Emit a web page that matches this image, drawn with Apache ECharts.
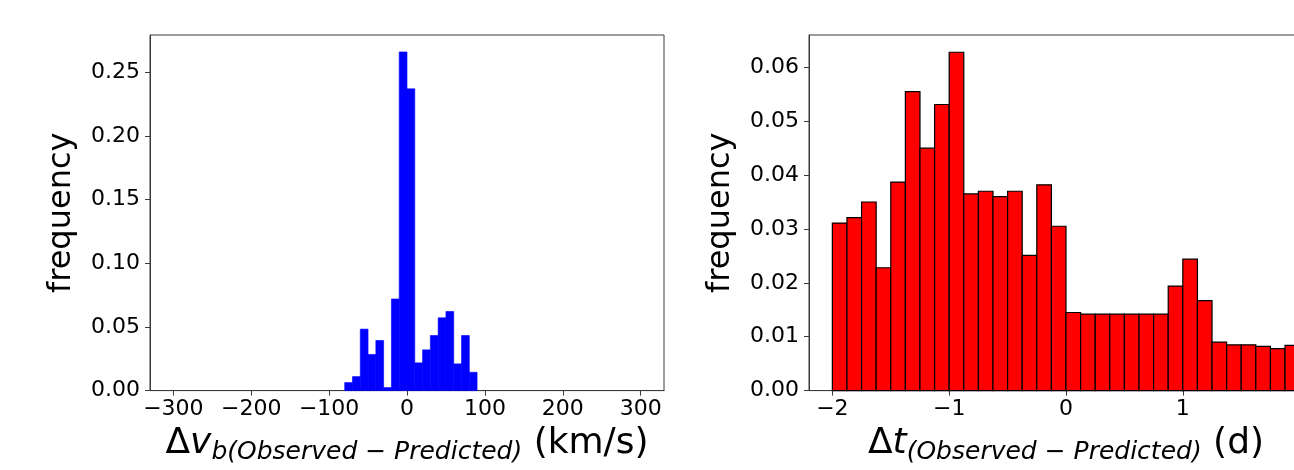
<!DOCTYPE html>
<html>
<head>
<meta charset="utf-8">
<script src="https://cdn.jsdelivr.net/npm/echarts@6/dist/echarts.min.js"></script>
<style>
html, body { margin: 0; padding: 0; background: #fff; overflow: hidden; width: 1294px; height: 470px; }
#chart { width: 1340px; height: 470px; }
</style>
</head>
<body>
<div id="chart"></div>
<script>
// ---- data ----
const leftEdges = [-80, -70, -60, -50, -40, -30, -20, -10, 0, 10, 20, 30, 40, 50, 60, 70, 80, 90];
const leftFreq = [0.0063, 0.0110, 0.0483, 0.0284, 0.0394, 0.0024, 0.0720, 0.2661, 0.2371, 0.0218,
                  0.0320, 0.0433, 0.0572, 0.0622, 0.0210, 0.0433, 0.0144];
const rightEdges = [-2, -1.875, -1.75, -1.625, -1.5, -1.375, -1.25, -1.125, -1, -0.875, -0.75, -0.625,
                    -0.5, -0.375, -0.25, -0.125, 0, 0.125, 0.25, 0.375, 0.5, 0.625, 0.75, 0.875,
                    1, 1.125, 1.25, 1.375, 1.5, 1.625, 1.75, 1.875, 2];
const rightFreq = [0.0311, 0.0321, 0.0350, 0.0228, 0.0387, 0.0555, 0.0450, 0.0531, 0.0628, 0.0365,
                   0.0370, 0.0360, 0.0370, 0.0251, 0.0382, 0.0305, 0.0145, 0.0142, 0.0142, 0.0142,
                   0.0142, 0.0142, 0.0142, 0.0194, 0.0244, 0.0167, 0.0090, 0.0085, 0.0085, 0.0082,
                   0.0078, 0.0084];
const leftXTicks = [-300, -200, -100, 0, 100, 200, 300];
const leftYTicks = [0, 0.05, 0.10, 0.15, 0.20, 0.25];
const rightXTicks = [-2, -1, 0, 1, 2];
const rightYTicks = [0, 0.01, 0.02, 0.03, 0.04, 0.05, 0.06];

// ---- helpers ----
function toBins(edges, freq) {
  return freq.map((f, i) => [edges[i], edges[i + 1], f]);
}
const FONT = 'DejaVu Sans';
const SPINE = '#3a3a3a';
const fmtX = v => (v < 0 ? '\u2212' + Math.abs(v) : String(v));
const fmtY = v => Number(v).toFixed(2);

function xAxisCfg(idx, min, max, ticks, name) {
  return {
    type: 'value', gridIndex: idx, min: min, max: max,
    splitLine: { show: false },
    axisLine: { show: true, onZero: false, lineStyle: { color: SPINE, width: 1 } },
    axisTick: { show: true, length: 5, inside: false, lineStyle: { color: SPINE }, customValues: ticks },
    axisLabel: { show: true, customValues: ticks, formatter: fmtX, color: '#000', fontFamily: FONT, fontSize: 22, margin: 8 },
    name: name, nameLocation: 'middle', nameGap: 29,
    nameTextStyle: {
      color: '#000', fontFamily: FONT,
      rich: {
        d: { fontSize: 36, fontFamily: FONT, color: '#000' },
        v: { fontSize: 36, fontFamily: FONT, fontStyle: 'italic', color: '#000' },
        s: { fontSize: 25, fontFamily: FONT, fontStyle: 'italic', color: '#000', padding: [18, 0, 0, 0] }
      }
    }
  };
}
function yAxisCfg(idx, max, ticks) {
  return {
    type: 'value', gridIndex: idx, min: 0, max: max,
    splitLine: { show: false },
    axisLine: { show: true, onZero: false, lineStyle: { color: SPINE, width: 1 } },
    axisTick: { show: true, length: 5, inside: false, lineStyle: { color: SPINE }, customValues: ticks },
    axisLabel: { show: true, customValues: ticks, formatter: fmtY, color: '#000', fontFamily: FONT, fontSize: 22, margin: 10 },
    name: 'frequency', nameLocation: 'middle', nameGap: 72, nameRotate: 90,
    nameTextStyle: { color: '#000', fontFamily: FONT, fontSize: 32 }
  };
}
function histSeries(idx, data, fill, stroke, lw) {
  return {
    type: 'custom', xAxisIndex: idx, yAxisIndex: idx, data: data,
    encode: { x: [0, 1], y: 2 },
    renderItem: function (params, api) {
      const p0 = api.coord([api.value(0), 0]);
      const p1 = api.coord([api.value(1), api.value(2)]);
      return {
        type: 'rect',
        shape: { x: p0[0], y: p1[1], width: p1[0] - p0[0], height: p0[1] - p1[1] },
        style: { fill: fill, stroke: stroke, lineWidth: lw }
      };
    },
    silent: true, animation: false
  };
}

const chart = echarts.init(document.getElementById('chart'), null, { renderer: 'canvas' });
chart.setOption({
  animation: false,
  backgroundColor: '#fff',
  grid: [
    { left: 150, top: 35, width: 514, height: 356, show: true, borderColor: SPINE, borderWidth: 1, containLabel: false },
    { left: 809, top: 35, width: 514, height: 356, show: true, borderColor: SPINE, borderWidth: 1, containLabel: false }
  ],
  xAxis: [
    xAxisCfg(0, -330, 330, leftXTicks, '{d|\u0394}{v|v}{s|b(Observed \u2212 Predicted)}{d| (km/s)}'),
    xAxisCfg(1, -2.2, 2.2, rightXTicks, '{d|\u0394}{v|t}{s|(Observed \u2212 Predicted)}{d| (d)}')
  ],
  yAxis: [
    yAxisCfg(0, 0.2794, leftYTicks),
    yAxisCfg(1, 0.066, rightYTicks)
  ],
  series: [
    histSeries(0, toBins(leftEdges, leftFreq), '#0000ff', '#0000ff', 0.6),
    histSeries(1, toBins(rightEdges, rightFreq), '#ff0000', '#000000', 1.2)
  ]
});
</script>
</body>
</html>
